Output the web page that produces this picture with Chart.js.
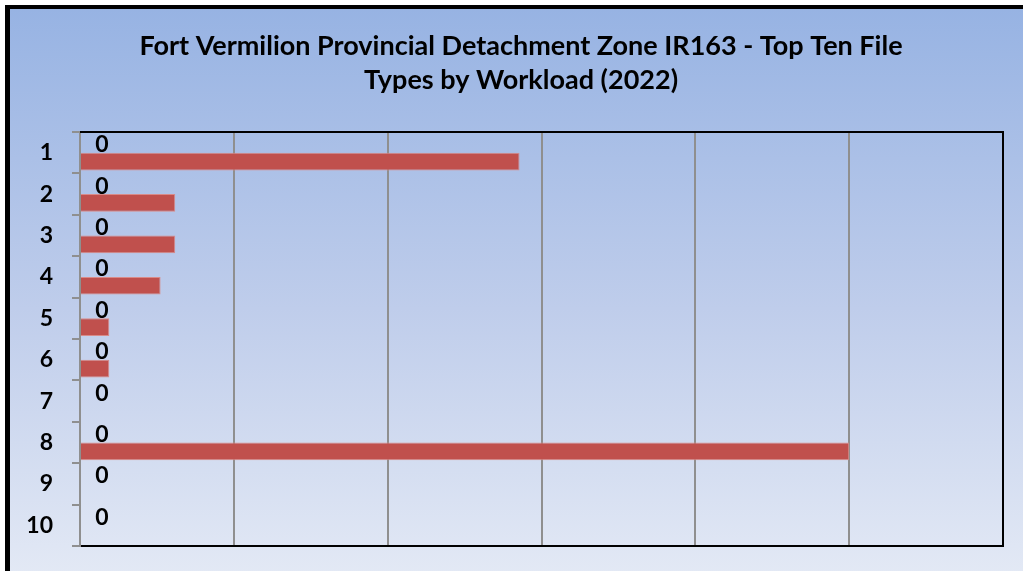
<!DOCTYPE html>
<html>
<head>
<meta charset="utf-8">
<script src="https://cdn.jsdelivr.net/npm/chart.js@4/dist/chart.umd.min.js"></script>
<style>
  html, body { margin: 0; padding: 0; background: #fff; overflow: hidden; }
  .frame {
    position: absolute; left: 5px; top: 5px; width: 1040px; height: 600px;
    border-left: 5px solid #000; border-top: 4px solid #000;
    background: linear-gradient(to bottom, #97b3e3 0px, #bfcdeb 300px, #e3e9f5 566px);
  }
  #wrap { position: absolute; left: 0; top: 0; width: 1023px; height: 571px; }
</style>
</head>
<body>
<div class="frame"></div>
<div id="wrap"><canvas id="workloadChart"></canvas></div>
<script>
const chartTitle = ['Fort Vermilion Provincial Detachment Zone IR163 - Top Ten File', 'Types by Workload (2022)'];
const rankLabels = ['1', '2', '3', '4', '5', '6', '7', '8', '9', '10'];
const emptySeries = [0, 0, 0, 0, 0, 0, 0, 0, 0, 0];
const workloadValues = [60, 13, 13, 11, 4, 4, 0, 105, 0, 0];
const axisMax = 126;
const axisStep = 21;

const gridGray = '#8f8f8f';

// title (centred on the whole frame, not the canvas), "0" labels of the
// empty series, and the black top/right edges of the plot
const plotDecor = {
  id: 'plotDecor',
  afterDraw(chart) {
    const { ctx, chartArea } = chart;
    ctx.save();
    ctx.fillStyle = '#000';
    ctx.textAlign = 'center';
    ctx.textBaseline = 'alphabetic';
    ctx.font = 'bold 27px Lato';
    chartTitle.forEach((line, i) => {
      ctx.fillText(line, 521, 55 + i * 33.5);
    });

    const meta = chart.getDatasetMeta(0);
    ctx.font = 'bold 23px Lato';
    ctx.textBaseline = 'middle';
    meta.data.forEach((bar, i) => {
      ctx.fillText(String(emptySeries[i]), chartArea.left + 22, bar.y + 1);
    });

    ctx.strokeStyle = '#000';
    ctx.lineWidth = 2;
    ctx.beginPath();
    ctx.moveTo(chartArea.left, chartArea.top);
    ctx.lineTo(chartArea.right, chartArea.top);
    ctx.lineTo(chartArea.right, chartArea.bottom);
    ctx.stroke();
    ctx.restore();
  },
};

function initWorkloadChart() {
  const ctx = document.getElementById('workloadChart');
  new Chart(ctx, {
    type: 'bar',
    data: {
      labels: rankLabels,
      datasets: [
        {
          label: 'Series 1',
          data: emptySeries,
          backgroundColor: 'rgba(0,0,0,0)',
          borderWidth: 0,
        },
        {
          label: 'Workload',
          data: workloadValues,
          backgroundColor: '#c0504d',
          borderColor: '#d98a88',
          borderWidth: 1,
          borderSkipped: 'start',
        },
      ],
    },
    options: {
      indexAxis: 'y',
      responsive: true,
      maintainAspectRatio: false,
      animation: false,
      categoryPercentage: 0.855,
      barPercentage: 1.0,
      layout: { padding: { left: 0, right: 20, top: 132, bottom: 25 } },
      plugins: {
        legend: { display: false },
        tooltip: { enabled: false },
        title: { display: false },
      },
      scales: {
        x: {
          min: 0,
          max: axisMax,
          ticks: { display: false, stepSize: axisStep },
          grid: { color: gridGray, lineWidth: 2, drawTicks: false },
          border: { display: true, color: '#000', width: 2 },
          afterFit: (scale) => { scale.height = 0; },
        },
        y: {
          ticks: {
            color: '#000',
            font: { family: 'Lato', size: 23, weight: 'bold' },
            padding: 19,
          },
          grid: {
            offset: true,
            drawOnChartArea: false,
            drawTicks: true,
            tickLength: 8,
            color: gridGray,
            lineWidth: 2,
          },
          border: { display: true, color: gridGray, width: 2 },
          afterFit: (scale) => {
            scale.width = 80;
            scale.paddingTop = 0;
            scale.paddingBottom = 0;
          },
        },
      },
    },
    plugins: [plotDecor],
  });
}

window.addEventListener('DOMContentLoaded', () => {
  initWorkloadChart();
});
</script>
</body>
</html>
